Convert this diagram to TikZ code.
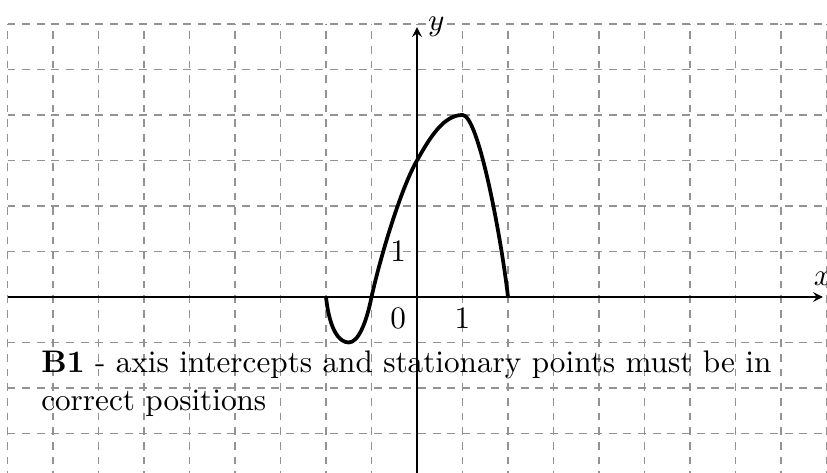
\documentclass[tikz,border=0pt]{standalone}
\usetikzlibrary{arrows}
\begin{document}
\begin{tikzpicture}[x=0.5125cm,y=0.5125cm,
  gridline/.style={gray!85, dash pattern=on 2.5pt off 2.2pt, thin},
  axisline/.style={-stealth, thin},
  curveline/.style={very thick, line join=round}]
\useasboundingbox (-9.165,-3.868) rectangle (9.01,6.527);
\draw[gridline, step=0.5125cm] (-9,-4) grid (9,6);
\coordinate (xl) at (-9,0);
\coordinate (xr) at (8.92,0);
\coordinate (yb) at (0,-4);
\coordinate (yt) at (0,5.93);
\draw[axisline] (xl) -- (xr) node[above] (xlab) {$x$};
\draw[axisline] (yb) -- (yt) node[right] (ylab) {$y$};
\node[below left] (zero) at (0,0) {0};
\node[below] (onex) at (1,0) {1};
\node[left] (oney) at (0,1) {1};
\draw[curveline] (-2,0) .. controls (-1.92,-0.75) and (-1.7,-1) .. (-1.5,-1)
  .. controls (-1.3,-1) and (-1.12,-0.6) .. (-1,0)
  .. controls (-0.8,0.9) and (-0.35,2.4) .. (0,3)
  .. controls (0.3,3.54) and (0.6,4) .. (1,4)
  .. controls (1.35,4) and (1.85,1.3) .. (2,0);
\node[anchor=north west, align=left] (note) at (-8.5,-0.95)
  {\textbf{B1} - axis intercepts and stationary points must be in\\correct positions};
\end{tikzpicture}
\end{document}
